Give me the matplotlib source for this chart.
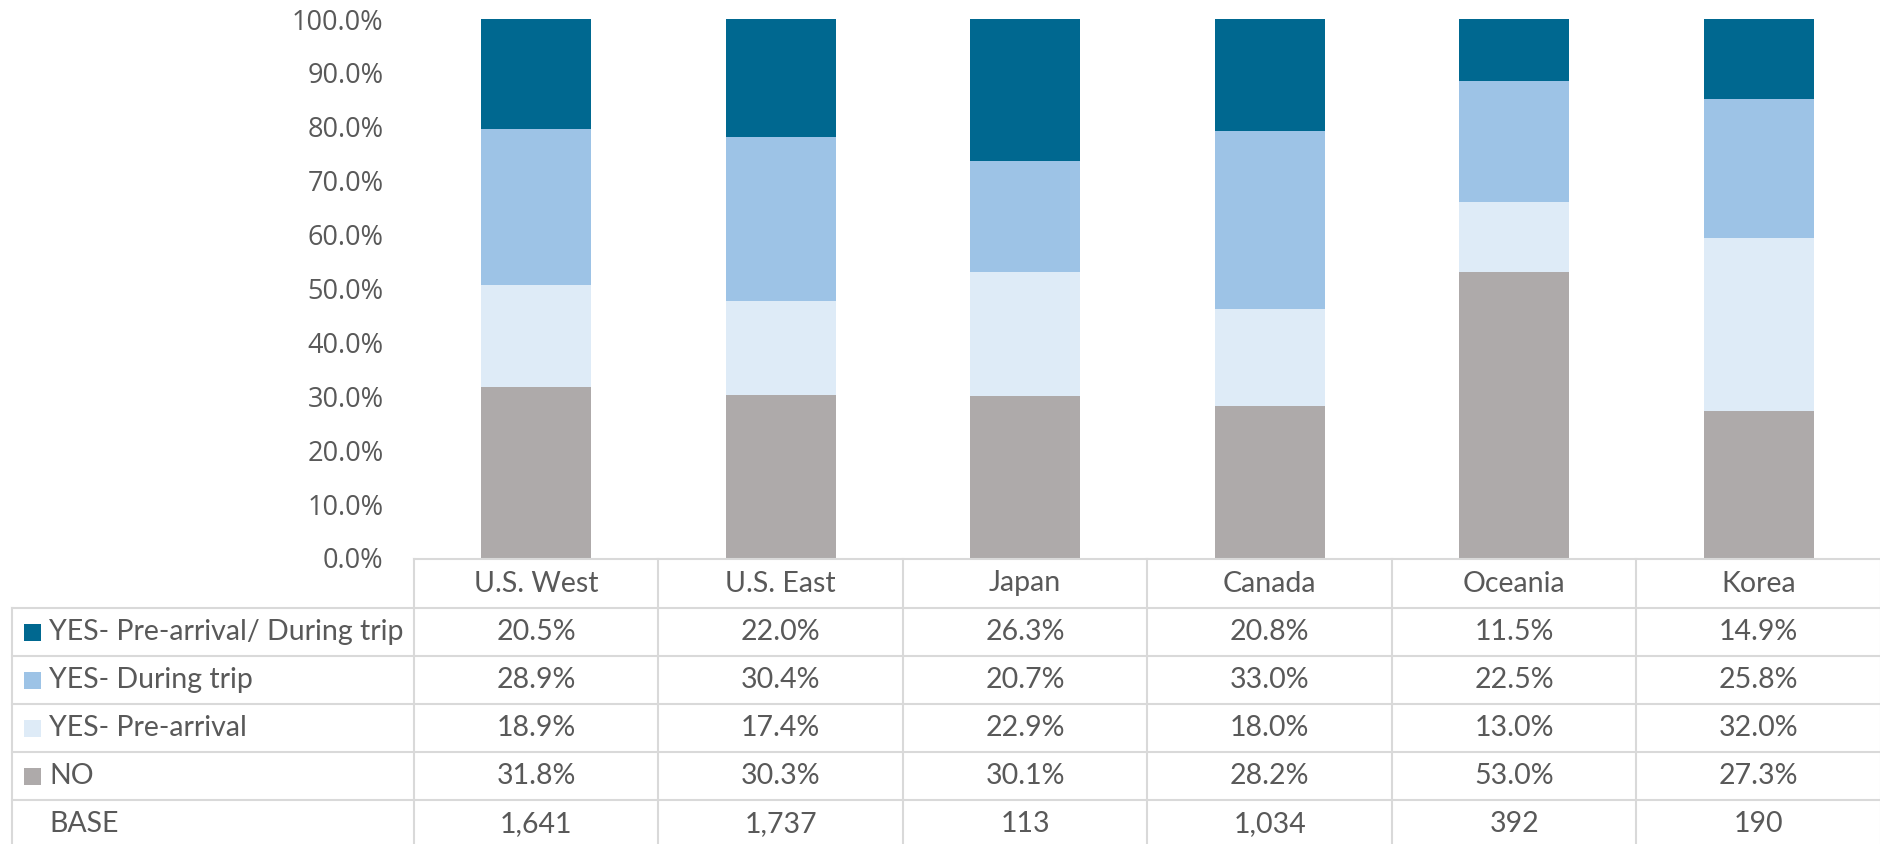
import matplotlib
matplotlib.use("Agg")
import matplotlib.pyplot as plt
import matplotlib.transforms as mtransforms
from matplotlib.patches import Rectangle
from matplotlib.ticker import PercentFormatter

# data
regions = ["U.S. West", "U.S. East", "Japan", "Canada", "Oceania", "Korea"]
no_pct = [31.8, 30.3, 30.1, 28.2, 53.0, 27.3]
pre_arrival = [18.9, 17.4, 22.9, 18.0, 13.0, 32.0]
during_trip = [28.9, 30.4, 20.7, 33.0, 22.5, 25.8]
pre_and_during = [20.5, 22.0, 26.3, 20.8, 11.5, 14.9]
base_n = ["1,641", "1,737", "113", "1,034", "392", "190"]

series_names = ["YES- Pre-arrival/ During trip", "YES- During trip", "YES- Pre-arrival", "NO"]
colors = {"NO": "#AEAAAA", "YES- Pre-arrival": "#DEEBF7",
          "YES- During trip": "#9DC3E6", "YES- Pre-arrival/ During trip": "#006890"}

txt_col = "#595959"
grid_col = "#D9D9D9"
W, H = 1881, 844

fig = plt.figure(figsize=(W / 100, H / 100), dpi=100)
ax = fig.add_axes([414 / W, 1 - 558 / H, (W - 414) / W, (558 - 19) / H])

x = list(range(len(regions)))
bottom = [0.0] * len(regions)
for name, vals in [("NO", no_pct), ("YES- Pre-arrival", pre_arrival),
                   ("YES- During trip", during_trip),
                   ("YES- Pre-arrival/ During trip", pre_and_during)]:
    ax.bar(x, vals, width=0.45, bottom=bottom, color=colors[name], linewidth=0)
    bottom = [b + v for b, v in zip(bottom, vals)]

ax.set_xlim(-0.5, len(regions) - 0.5)
ax.set_ylim(0, 100)
ax.set_yticks(range(0, 101, 10))
ax.yaxis.set_major_formatter(PercentFormatter(decimals=1))
ax.tick_params(axis="y", length=0, pad=22, labelsize=19.5, labelcolor=txt_col)
for lab in ax.get_yticklabels():
    lab.set_fontfamily("Open Sans")
ax.set_xticks([])
for s in ax.spines.values():
    s.set_visible(False)

# table under the chart
tr = mtransforms.blended_transform_factory(ax.transData, fig.transFigure)
def fy(py):
    return 1 - py / H

row_lines = [559, 608, 656, 704, 752, 800, 848]
lw = 1.5
# horizontal lines
fig.add_artist(plt.Line2D([414 / W, 1], [fy(559)] * 2, color=grid_col, lw=lw))
for yy in row_lines[1:]:
    fig.add_artist(plt.Line2D([12 / W, 1], [fy(yy)] * 2, color=grid_col, lw=lw))
# vertical lines
for k in range(len(regions) + 1):
    fig.add_artist(plt.Line2D([k - 0.5] * 2, [fy(559), fy(848)], transform=tr,
                              color=grid_col, lw=lw))
fig.add_artist(plt.Line2D([12 / W] * 2, [fy(608), fy(848)], color=grid_col, lw=lw))

font = dict(family="Lato", fontsize=20.5, color=txt_col)
for i, r in enumerate(regions):
    fig.text(i, fy((559 + 608) / 2), r, transform=tr, ha="center", va="center", **font)

rows = [("YES- Pre-arrival/ During trip", pre_and_during),
        ("YES- During trip", during_trip),
        ("YES- Pre-arrival", pre_arrival),
        ("NO", no_pct)]
for j, (name, vals) in enumerate(rows):
    yc = fy((row_lines[j + 1] + row_lines[j + 2]) / 2)
    fig.add_artist(Rectangle((24 / W, yc - 8.5 / H), 17 / W, 17 / H,
                             transform=fig.transFigure, color=colors[name], lw=0))
    fig.text(49 / W, yc, name, ha="left", va="center", **font)
    for i, v in enumerate(vals):
        fig.text(i, yc, f"{v:.1f}%", transform=tr, ha="center", va="center", **font)

yc = fy((row_lines[5] + row_lines[6]) / 2)
fig.text(49 / W, yc, "BASE", ha="left", va="center", **font)
for i, b in enumerate(base_n):
    fig.text(i, yc, b, transform=tr, ha="center", va="center", **font)

fig.savefig("out.png", dpi=100)
